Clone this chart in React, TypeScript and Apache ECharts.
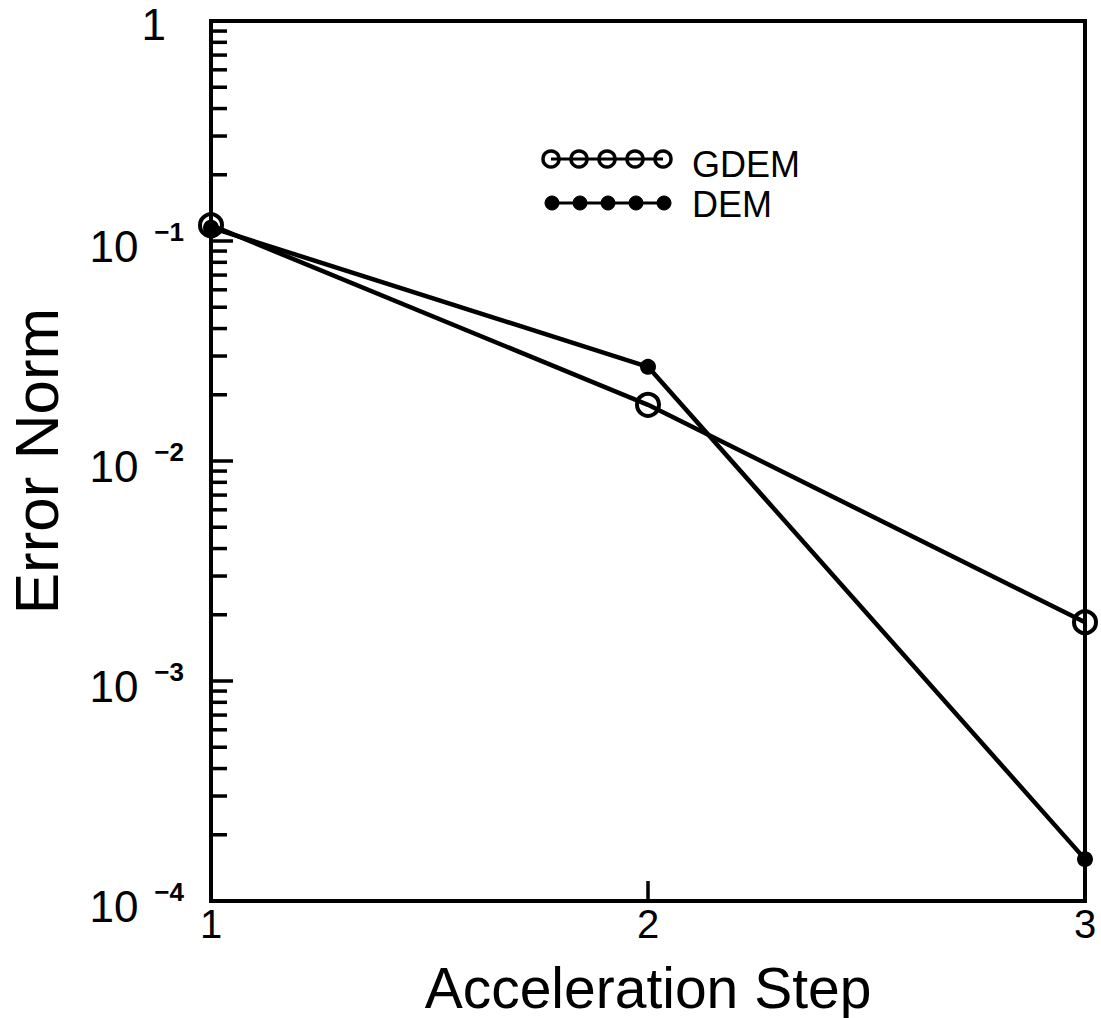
import React, { useEffect, useRef } from "react";
import * as echarts from "echarts";

// Acceleration steps on the horizontal axis
const steps = [1, 2, 3];
// Error norm after each acceleration step
const gdemValues = [0.118, 0.018, 0.00185];
const demValues = [0.115, 0.0268, 0.000155];
// Decade labels on the log axis (exponents of 10)
const decadeExponents = [-4, -3, -2, -1, 0];
// Intermediate log-axis ticks (2..9 within each decade)
const minorTickValues: number[] = [];
for (const e of [-4, -3, -2, -1]) {
  for (const m of [2, 3, 4, 5, 6, 7, 8, 9]) {
    minorTickValues.push(Number((m * Math.pow(10, e)).toPrecision(3)));
  }
}

const FONT = "'Liberation Sans', Arial, Helvetica, sans-serif";

export default function App() {
  const ref = useRef<HTMLDivElement>(null);

  useEffect(() => {
    if (!ref.current) return;
    const chart = echarts.init(ref.current, undefined, { renderer: "svg" });

    const legendX = [551, 579, 607, 635, 663];

    chart.setOption({
      animation: false,
      backgroundColor: "#fff",
      grid: {
        left: 211,
        right: 16,
        top: 21,
        bottom: 117,
        containLabel: false,
        outerBoundsMode: "none",
        show: true,
        borderColor: "#000",
        borderWidth: 4,
        backgroundColor: "transparent",
      },
      xAxis: {
        type: "value",
        min: 1,
        max: 3,
        interval: 1,
        name: "Acceleration Step",
        nameLocation: "middle",
        nameGap: 58,
        nameTextStyle: { fontSize: 57, fontFamily: FONT, color: "#000" },
        axisLine: { show: true, lineStyle: { color: "#000", width: 4 } },
        axisTick: { show: true, inside: true, length: 20, lineStyle: { color: "#000", width: 3.5 } },
        axisLabel: { fontSize: 40, fontFamily: FONT, color: "#000", margin: 3 },
        splitLine: { show: false },
      },
      yAxis: {
        type: "log",
        logBase: 10,
        min: 1e-4,
        max: 1,
        splitNumber: 4,
        name: "Error Norm",
        nameLocation: "middle",
        nameRotate: 90,
        nameGap: 144,
        nameTextStyle: { fontSize: 62, lineHeight: 62, fontFamily: FONT, color: "#000" },
        axisLine: { show: true, lineStyle: { color: "#000", width: 4 } },
        axisTick: { show: true, inside: true, length: 22, lineStyle: { color: "#000", width: 3.5 } },
        axisLabel: {
          margin: 27,
          formatter: (v: number) => {
            const e = Math.round(Math.log10(v));
            if (!decadeExponents.includes(e)) return "";
            if (e === 0) return "{one|1}";
            return `{b|10}{s|\u2212${-e}}`;
          },
          rich: {
            b: { fontSize: 44, fontFamily: FONT, color: "#000", padding: [10, 0, 0, 0] },
            s: { fontSize: 26, fontWeight: "bold", fontFamily: FONT, color: "#000", padding: [0, 0, 18, 16] },
            one: { fontSize: 44, fontFamily: FONT, color: "#000", padding: [6, 18, 0, 0] },
          },
        },
        splitLine: { show: false },
      },
      graphic: [
        {
          type: "group",
          children: [
            { type: "line", shape: { x1: legendX[0], y1: 159, x2: legendX[4], y2: 159 }, style: { stroke: "#000", lineWidth: 3 } },
            ...legendX.map((x) => ({
              type: "circle",
              shape: { cx: x, cy: 159, r: 8 },
              style: { fill: "transparent", stroke: "#000", lineWidth: 3.5 },
            })),
            { type: "text", x: 692, y: 164, style: { text: "GDEM", font: `36px ${FONT}`, fill: "#000", verticalAlign: "middle" } },
            { type: "line", shape: { x1: legendX[0], y1: 203, x2: legendX[4], y2: 203 }, style: { stroke: "#000", lineWidth: 3 } },
            ...legendX.map((x) => ({
              type: "circle",
              shape: { cx: x + 1, cy: 203, r: 7 },
              style: { fill: "#000", stroke: "#000", lineWidth: 1 },
            })),
            { type: "text", x: 692, y: 204, style: { text: "DEM", font: `36px ${FONT}`, fill: "#000", verticalAlign: "middle" } },
          ],
        },
      ],
      series: [
        {
          name: "minor ticks",
          type: "custom",
          silent: true,
          clip: false,
          data: minorTickValues.map((v) => [1, v]),
          renderItem: (_params: any, api: any) => {
            const p = api.coord([1, api.value(1)]);
            return {
              type: "line",
              shape: { x1: p[0], y1: p[1], x2: p[0] + 16, y2: p[1] },
              style: { stroke: "#000", lineWidth: 3.5 },
            };
          },
          z: 5,
        },
        {
          name: "GDEM",
          type: "line",
          data: steps.map((s, i) => [s, gdemValues[i]]),
          clip: false,
          symbol: "circle",
          symbolSize: 22,
          showAllSymbol: true,
          lineStyle: { color: "#000", width: 4.5 },
          itemStyle: { color: "transparent", borderColor: "#000", borderWidth: 4 },
          z: 3,
        },
        {
          name: "DEM",
          type: "line",
          data: steps.map((s, i) => [s, demValues[i]]),
          clip: false,
          symbol: "circle",
          symbolSize: 16,
          showAllSymbol: true,
          lineStyle: { color: "#000", width: 4.5 },
          itemStyle: { color: "#000", borderColor: "#000", borderWidth: 0 },
          z: 4,
        },
      ],
    });

    return () => chart.dispose();
  }, []);

  return (
    <div
      ref={ref}
      style={{ position: "absolute", left: 0, top: 0, width: 1101, height: 1018, background: "#fff" }}
    />
  );
}
